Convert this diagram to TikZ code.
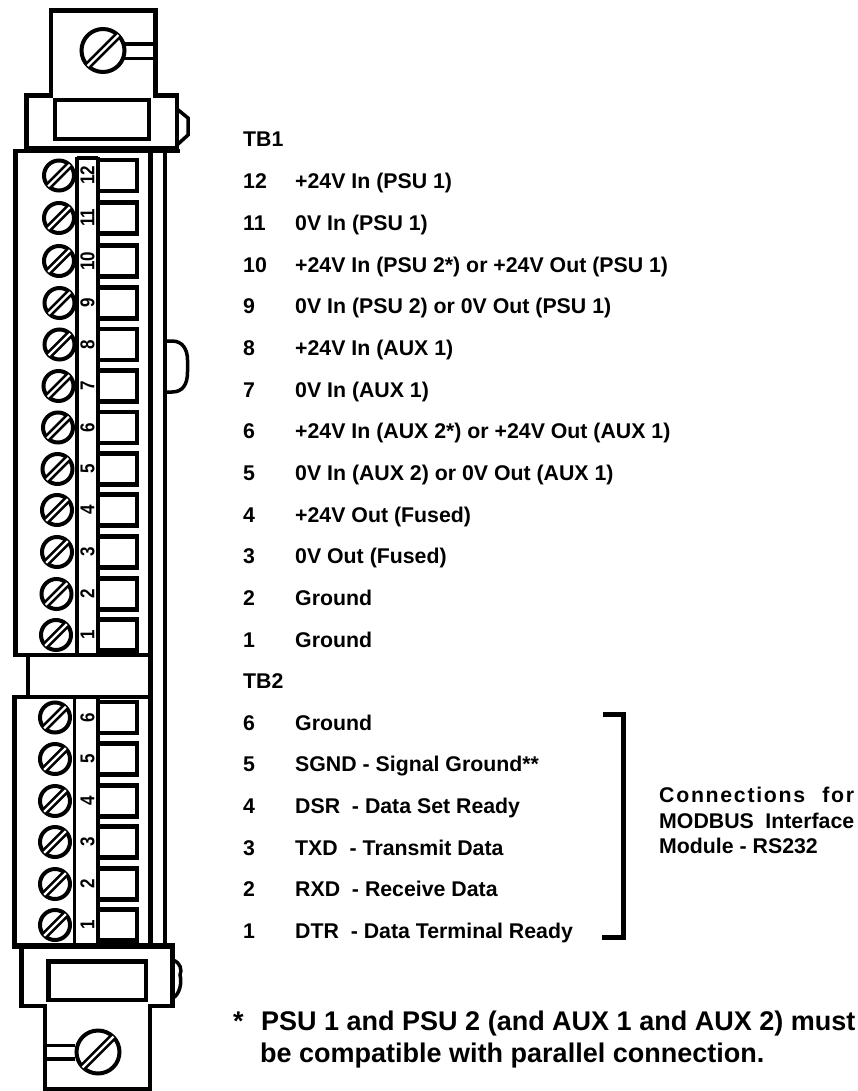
\documentclass[tikz,border=0pt]{standalone}
\usepackage{fontspec}
\setmainfont{Liberation Sans}
\tikzstyle{line} = [line width=4.5pt, line join=miter]
\tikzstyle{thinline} = [line width=3.5pt]
\tikzstyle{screwline} = [line width=4pt]
\tikzstyle{lbl} = [anchor=base west, inner sep=0pt, font=\fontsize{21.3}{21.3}\selectfont\bfseries]
\tikzstyle{note} = [anchor=base west, inner sep=0pt, font=\fontsize{27}{27}\selectfont\bfseries]
\tikzstyle{pinlbl} = [rotate=90, inner sep=0pt, font=\fontsize{20}{20}\selectfont\bfseries]

\newcommand{\screw}[3]{
\draw [screwline] (#1,#2) circle (#3);
\draw [line width=7.5pt, shift={(#1,#2)}] (-0.72*#3,0.72*#3) -- (0.72*#3,-0.72*#3);
\draw [line width=2.2pt, white, shift={(#1,#2)}] (-0.72*#3,0.72*#3) -- (0.72*#3,-0.72*#3);
}
\newcommand{\terminal}[4]{
\screw{#2}{#3}{15}
\draw [line] (98,#3-15.5) rectangle (137,#3+15.5);
\node [pinlbl] (#1) at (87.5,#3) {\scalebox{0.85}[1]{#4}};
}
\newcommand{\pinrow}[4]{
\node [lbl] (#1n) at (243,#2) {#3};
\node [lbl] (#1t) at (295,#2) {#4};
}

\begin{document}
\begin{tikzpicture}[x=1pt,y=-1pt]
\useasboundingbox (0,0) rectangle (858,1091);

% top clamp
\draw [line] (26.7,148) -- (26.7,95.5) -- (51,95.5) -- (51,10.5) -- (155.5,10.5) -- (155.5,95.5) -- (177,95.5) -- (177,148) -- cycle;
\draw [line] (55,100) rectangle (149,139);
\draw [thinline] (177,109) -- (188,118) -- (188,135) -- (177,145);
\draw [thinline] (124,44) -- (153,44);
\draw [thinline] (124,58.3) -- (153,58.3);
\screw{103}{50.5}{21.5}

% bottom clamp
\draw [line] (21.5,946) -- (21.5,1006) -- (45,1006) -- (45,1089) -- (150,1089) -- (150,1006) -- (172.5,1006) -- (172.5,946);
\draw [line] (48.5,961.5) rectangle (146,1000);
\draw [thinline] (47,1045.5) -- (75,1045.5);
\draw [thinline] (47,1059) -- (75,1059);
\screw{98}{1052}{21.5}
\draw [thinline] (173,960) .. controls (181,963) and (182,970) .. (180,975) .. controls (182,982) and (180,994) .. (173,998);

% housing
\draw [thinline] (13,151) -- (180,151);
\draw [line] (15.5,151) -- (15.5,655);
\draw [line] (13,655) -- (152,655);
\draw [line] (28,655) -- (28,697);
\draw [line] (12,697) -- (152,697);
\draw [line] (14.5,697) -- (14.5,946);
\draw [line width=6pt] (12,946) -- (175,946);
\draw [line] (150.5,151) -- (150.5,946);
\draw [thinline] (165,151) -- (165,946);
\draw [thinline] (165,341) -- (172,341) .. controls (183,341) and (187.5,350) .. (187.5,360) -- (187.5,372) .. controls (187.5,384) and (183,392) .. (172,392) -- (165,392);
\draw [thinline] (77,157) -- (77,655);
\draw [thinline] (77,158) -- (98,158);
\draw [thinline] (98,157) -- (98,655);
\draw [thinline] (74.5,697) -- (74.5,946);
\draw [thinline] (98,697) -- (98,946);

% TB1
\terminal{a12}{59}{175.5}{12}
\terminal{a11}{59}{218}{11}
\terminal{a10}{59}{261}{10}
\terminal{a9}{59.5}{303}{9}
\terminal{a8}{59.5}{344.5}{8}
\terminal{a7}{58.5}{386}{7}
\terminal{a6}{58}{427.5}{6}
\terminal{a5}{57.5}{469}{5}
\terminal{a4}{57}{510}{4}
\terminal{a3}{57}{552}{3}
\terminal{a2}{56.5}{594}{2}
\terminal{a1}{56}{635}{1}

% TB2
\terminal{b6}{55}{717.5}{6}
\terminal{b5}{55}{759}{5}
\terminal{b4}{55}{801}{4}
\terminal{b3}{55}{842}{3}
\terminal{b2}{55}{884}{2}
\terminal{b1}{55}{925}{1}

% pin list
\node [lbl] (tba) at (243,147) {TB1};
\pinrow{ra12}{188.5}{12}{+24V In (PSU 1)}
\pinrow{ra11}{230}{11}{0V In (PSU 1)}
\pinrow{ra10}{272}{10}{+24V In (PSU 2*) or +24V Out (PSU 1)}
\pinrow{ra9}{313.5}{9}{0V In (PSU 2) or 0V Out (PSU 1)}
\pinrow{ra8}{355}{8}{+24V In (AUX 1)}
\pinrow{ra7}{397}{7}{0V In (AUX 1)}
\pinrow{ra6}{438.5}{6}{+24V In (AUX 2*) or +24V Out (AUX 1)}
\pinrow{ra5}{480}{5}{0V In (AUX 2) or 0V Out (AUX 1)}
\pinrow{ra4}{522}{4}{+24V Out (Fused)}
\pinrow{ra3}{563.5}{3}{0V Out (Fused)}
\pinrow{ra2}{605}{2}{Ground}
\pinrow{ra1}{647}{1}{Ground}
\node [lbl] (tbb) at (243,688.5) {TB2};
\pinrow{rb6}{730}{6}{Ground}
\pinrow{rb5}{771.6}{5}{SGND - Signal Ground**}
\pinrow{rb4}{813}{4}{DSR\ \ - Data Set Ready}
\pinrow{rb3}{855}{3}{TXD\ \ - Transmit Data}
\pinrow{rb2}{896.5}{2}{RXD\ \ - Receive Data}
\pinrow{rb1}{938}{1}{DTR\ \ - Data Terminal Ready}

% bracket
\draw [line width=5pt] (603,714) -- (623.5,714) -- (623.5,937.5) -- (602,937.5);
\node [lbl] (conn) at (659,802) {\makebox[195pt][s]{\addfontfeature{LetterSpace=8}Connections for}};
\node [lbl] (modb) at (659,828) {\makebox[195pt][s]{MODBUS Interface}};
\node [lbl] (modu) at (659,853) {Module - RS232};

% footnote
\node [note] (star) at (233,1030) {*};
\node [note] (foota) at (261,1030) {PSU 1 and PSU 2 (and AUX 1 and AUX 2) must};
\node [note] (footb) at (260,1062) {be compatible with parallel connection.};
\end{tikzpicture}
\end{document}
